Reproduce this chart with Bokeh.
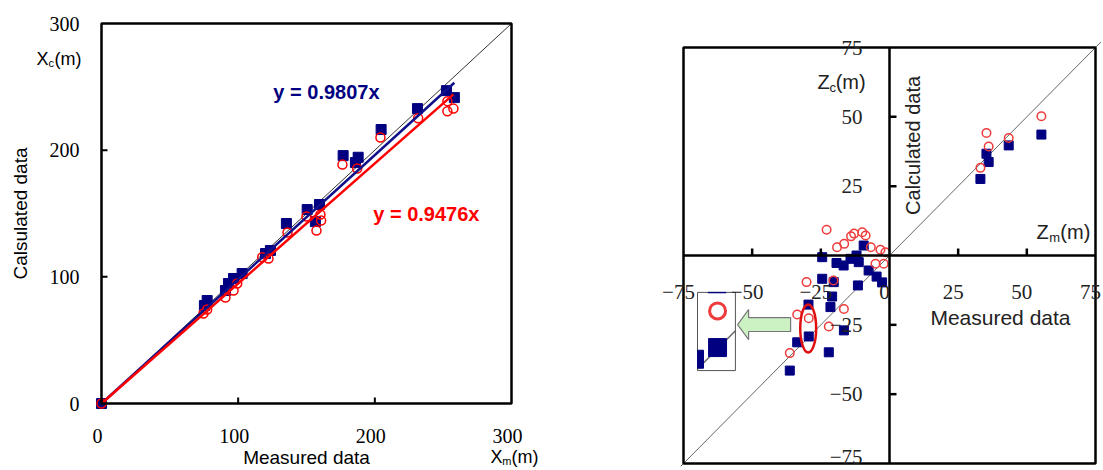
import numpy as np
from bokeh.plotting import figure
from bokeh.models import Range1d, Label, LabelSet, ColumnDataSource
from bokeh.layouts import row
from bokeh.embed import file_html
from bokeh.resources import INLINE

FONT = "Liberation Sans"

# ---------------- left chart data (X direction) ----------------
blue_xm = [0, 75.3, 77.3, 90.7, 92.9, 96.6, 102.9, 120.0, 123.6, 135.3, 150.5, 159.5,
           156.5, 176.8, 187.8, 185.8, 204.6, 231.2, 252.4, 258.2]
blue_xc = [0, 77.3, 81.3, 89.2, 94.7, 98.7, 102.6, 118.4, 120.8, 142.1, 153.1, 157.1,
           143.6, 195.7, 194.4, 190.2, 216.3, 232.8, 247.0, 241.5]
red_xm = [0, 74.6, 77.3, 90.7, 96.6, 99.3, 117.6, 122.2, 136.1, 150.0, 160.2, 157.3,
          160.7, 176.3, 187.1, 204.1, 231.7, 253.1, 253.1, 257.5]
red_xc = [0, 71.0, 74.2, 83.7, 89.2, 94.7, 115.5, 114.4, 135.0, 147.6, 149.2, 136.5,
          144.4, 188.6, 185.5, 210.0, 225.2, 238.7, 230.7, 232.8]
blue_slope = 0.9807
red_slope = 0.9476
x_ticks = [0, 100, 200, 300]
x_tick_labels = ["0", "100", "200", "300"]
x_inner_ticks = [100, 200]

# ---------------- right chart data (Z direction) ----------------
blue_zm = [-24.5, -19.3, -16.7, -14.2, -12.0, -9.4, -11.2, -7.6, -4.7, -2.7, -24.5, -20.3,
           -11.5, -20.9, -21.5, -29.5, -29.4, -33.6, -16.6, -22.1, -36.3,
           33.1, 35.3, 36.1, 43.4, 55.3]
blue_zc = [-0.6, -2.7, -3.6, -1.2, 0.0, 3.6, -2.4, -5.4, -7.6, -9.7, -8.4, -9.6,
           -10.8, -14.8, -18.6, -17.7, -29.2, -31.3, -27.0, -34.9, -41.5,
           27.6, 36.7, 33.7, 39.7, 43.6]
red_zm = [-22.9, -19.1, -16.5, -14.0, -12.9, -9.9, -8.7, -6.8, -3.3, -1.5, -5.1, -2.1,
          -30.2, -20.4, -16.6, -33.6, -29.4, -22.1, -36.3,
          33.1, 35.3, 36.1, 43.4, 55.3]
red_zc = [9.3, 3.0, 4.2, 6.9, 7.9, 8.4, 7.2, 3.0, 2.1, 1.2, -3.0, -3.0,
          -9.6, -9.0, -19.3, -21.3, -22.6, -25.6, -35.2,
          31.6, 44.2, 39.3, 42.4, 50.2]
z_lim = 75
zx_tick_vals = [-75, -50, -25, 0, 25, 50, 75]
zx_tick_text = ["\u221275", "\u221250", "\u221225", "0", "25", "50", "75"]
zy_tick_vals = [75, 50, 25, -25, -50, -75]
zy_tick_text = ["75", "50", "25", "\u221225", "\u221250", "\u221275"]
zy_tick_nudge = [0, 0, 0, 0, 0, 7]
z_inner_ticks = [-50, -25, 25, 50]

NAVY = "#000080"
RED = "#ff0000"
RED2 = "#ee3b3b"
DARK = "#222222"


def ranges(width, height, px0, px1, v0, v1, py0, py1, w0, w1):
    """Ranges so that value v0->pixel px0, v1->px1 (x) and w0->py0, w1->py1 (y, top-down)."""
    kx = (px1 - px0) / (v1 - v0)
    ky = (py1 - py0) / (w0 - w1)
    xr = Range1d(v0 - px0 / kx, v1 + (width - px1) / kx)
    yr = Range1d(w1 - (height - py1) / ky, w0 + py0 / ky)
    return xr, yr, kx, ky


def lab(p, x, y, text, size="19px", color="black", style="normal", align="left",
        baseline="middle", angle=0):
    p.add_layout(Label(x=x, y=y, text=text, text_font=FONT, text_font_size=size,
                       text_color=color, text_font_style=style, text_align=align,
                       text_baseline=baseline, angle=angle))


H = 470
W1, W2 = 551, 550

# =============== LEFT FIGURE ===============
xr1, yr1, kx1, ky1 = ranges(W1, H, 101, 511, 0, 300, 23, 403, 300, 0)
p1 = figure(width=W1, height=H, output_backend="svg", toolbar_location=None,
            x_range=xr1, y_range=yr1, x_axis_location=None, y_axis_location=None,
            min_border=0)
p1.grid.visible = False
p1.outline_line_color = None

p1.line([0, 300], [0, 300], line_color="#333333", line_width=1)
p1.scatter(blue_xm, blue_xc, marker="square", size=10, fill_color=NAVY, line_color=NAVY)
p1.scatter(red_xm, red_xc, marker="circle", size=9, fill_color=None, line_color=RED, line_width=1.5)
bx = np.array([0, max(blue_xm)])
rx = np.array([0, max(red_xm)])
p1.line(bx, blue_slope * bx, line_color="#10108a", line_width=2.5)
p1.line(rx, red_slope * rx, line_color=RED, line_width=2.5)

# frame box and inner ticks
p1.quad(left=[0], right=[300], bottom=[0], top=[300], fill_color=None, line_color="black", line_width=2.5)
p1.segment(x0=x_inner_ticks, y0=[0, 0], x1=x_inner_ticks, y1=[6 / ky1] * 2, line_color="black", line_width=2)
p1.segment(x0=[0, 0], y0=x_inner_ticks, x1=[6 / kx1] * 2, y1=x_inner_ticks, line_color="black", line_width=2)

src_xl = ColumnDataSource(dict(x=x_ticks, y=[0] * 4, t=x_tick_labels))
p1.add_layout(LabelSet(x="x", y="y", text="t", source=src_xl, x_offset=-4, y_offset=-32,
                       text_align="center", text_baseline="middle", text_font=FONT,
                       text_font_size="20px", text_color="black"))
src_yl = ColumnDataSource(dict(x=[0] * 4, y=x_ticks, t=x_tick_labels))
p1.add_layout(LabelSet(x="x", y="y", text="t", source=src_yl, x_offset=-22, y_offset=0,
                       text_align="right", text_baseline="middle", text_font=FONT,
                       text_font_size="20px", text_color="black"))

lab(p1, 164.6, 246.2, "y = %.4fx" % blue_slope, size="20px", color=NAVY, style="bold", align="center")
lab(p1, 237.7, 150.0, "y = %.4fx" % red_slope, size="20px", color=RED, style="bold", align="center")
lab(p1, -59.3, 150.0, "Calsulated data", align="center", angle=np.pi / 2)
lab(p1, 150.0, -42.6, "Measured data", align="center")
# X_c(m)
lab(p1, -47.5, 272.3, "X", size="18px")
lab(p1, -38.8, 268.6, "c", size="11px")
lab(p1, -34.4, 272.3, "(m)", size="18px")
# X_m(m)
lab(p1, 284.6, -42.0, "X", size="18px")
lab(p1, 293.3, -45.2, "m", size="11px")
lab(p1, 300.0, -42.0, "(m)", size="18px")

# =============== RIGHT FIGURE ===============
xr2, yr2, kx2, ky2 = ranges(W2, H, 683 - W1, 1095 - W1, -75, 75, 47, 463, 75, -75)
p2 = figure(width=W2, height=H, output_backend="svg", toolbar_location=None,
            x_range=xr2, y_range=yr2, x_axis_location=None, y_axis_location=None,
            min_border=0)
p2.grid.visible = False
p2.outline_line_color = None

p2.line([-76, 77], [-76, 77], line_color="#666666", line_width=1)

# inset (magnified view of the circled points)
src_c = (-29.6, -26.3)
dst_c = (-63.0, -27.4)
mag = 2.0
bL, bR, bB, bT = -69.9, -56.1, -41.5, -13.3
p2.quad(left=[bL], right=[bR], bottom=[bB], top=[bT], fill_color="white", line_color="#555555", line_width=1)
k = dst_c[1] - dst_c[0] + mag * (src_c[0] - src_c[1])
x_lo, x_hi = max(bL, bB - k), min(bR, bT - k)
p2.line([x_lo, x_hi], [x_lo + k, x_hi + k], line_color="#666666", line_width=1.5)
qs = dict(left=[], right=[], bottom=[], top=[])
hx = mag * 9 / 2 / kx2
hy = mag * 9 / 2 / ky2
for zx, zy in zip(blue_zm, blue_zc):
    dx = dst_c[0] + mag * (zx - src_c[0])
    dy = dst_c[1] + mag * (zy - src_c[1])
    l, r, b, t = max(dx - hx, bL), min(dx + hx, bR), max(dy - hy, bB), min(dy + hy, bT)
    if l < r and b < t:
        qs["left"].append(l); qs["right"].append(r); qs["bottom"].append(b); qs["top"].append(t)
p2.quad(source=ColumnDataSource(qs), left="left", right="right", bottom="bottom", top="top",
        fill_color=NAVY, line_color=NAVY)
cx, cy = [], []
rr = mag * 8 / 2
for zx, zy in zip(red_zm, red_zc):
    dx = dst_c[0] + mag * (zx - src_c[0])
    dy = dst_c[1] + mag * (zy - src_c[1])
    if bL < dx - rr / kx2 and dx + rr / kx2 < bR and bB < dy - rr / ky2 and dy + rr / ky2 < bT:
        cx.append(dx); cy.append(dy)
p2.scatter(cx, cy, marker="circle", size=mag * 8, fill_color=None, line_color=RED2, line_width=3)

# green arrow
arrow_x = [-55.3, -51.3, -51.3, -36.0, -36.0, -51.3, -51.3]
arrow_y = [-24.9, -19.5, -22.4, -22.4, -27.4, -27.4, -30.3]
p2.patch(arrow_x, arrow_y, fill_color="#ccf2c4", line_color="#777777", line_width=1.2)

p2.scatter(blue_zm, blue_zc, marker="square", size=9, fill_color=NAVY, line_color=NAVY)
p2.scatter(red_zm, red_zc, marker="circle", size=8.5, fill_color=None, line_color=RED2, line_width=1.5)

# red ellipse
p2.ellipse(x=[-29.6], y=[-26.3], width=[5.8], height=[17.3], fill_color=None,
           line_color="#e01010", line_width=2.5)

# box, centre axes, ticks
p2.quad(left=[-z_lim], right=[z_lim], bottom=[-z_lim], top=[z_lim], fill_color=None,
        line_color="black", line_width=2.5)
p2.segment(x0=[-z_lim, 0], y0=[0, -z_lim], x1=[z_lim, 0], y1=[0, z_lim], line_color="black", line_width=2.5)
p2.segment(x0=z_inner_ticks, y0=[0] * 4, x1=z_inner_ticks, y1=[7 / ky2] * 4, line_color="black", line_width=2.5)
p2.segment(x0=[0] * 4, y0=z_inner_ticks, x1=[7 / kx2] * 4, y1=z_inner_ticks, line_color="black", line_width=2.5)

# tick labels
xs_src = ColumnDataSource(dict(x=zx_tick_vals, y=[0] * len(zx_tick_vals), t=zx_tick_text))
p2.add_layout(LabelSet(x="x", y="y", text="t", source=xs_src, x_offset=-5, y_offset=-36,
                       text_align="center", text_baseline="middle", text_font=FONT,
                       text_font_size="21px", text_color=DARK))
ys_src = ColumnDataSource(dict(x=[0] * len(zy_tick_vals), y=zy_tick_vals, t=zy_tick_text,
                               dy=zy_tick_nudge))
p2.add_layout(LabelSet(x="x", y="y", text="t", source=ys_src, x_offset=-27, y_offset="dy",
                       text_align="right", text_baseline="middle", text_font=FONT,
                       text_font_size="21px", text_color=DARK))

lab(p2, 8.7, 39.7, "Calculated data", size="20px", color=DARK, align="center", angle=np.pi / 2)
lab(p2, 40.4, -22.4, "Measured data", size="21px", color=DARK, align="center")
# Z_c(m)
lab(p2, -26.2, 62.4, "Z", size="20px", color=DARK)
lab(p2, -21.8, 60.6, "c", size="13px", color=DARK)
lab(p2, -19.6, 62.4, "(m)", size="20px", color=DARK)
# Z_m(m)
lab(p2, 53.5, 8.3, "Z", size="20px", color=DARK)
lab(p2, 58.2, 6.5, "m", size="13px", color=DARK)
lab(p2, 62.2, 8.3, "(m)", size="20px", color=DARK)

layout = row(p1, p2)
open("out.html", "w").write(file_html(layout, INLINE))
